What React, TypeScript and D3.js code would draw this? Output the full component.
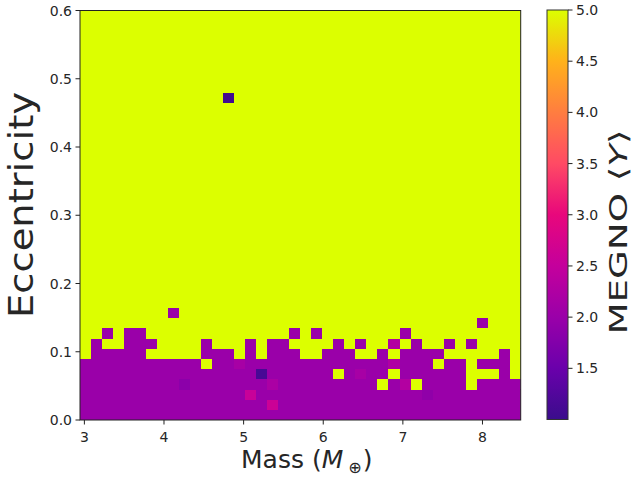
import React from 'react';
import * as d3 from 'd3';

// ---- data ----
const massRange: [number, number] = [2.945, 8.48];
const eccRange: [number, number] = [0, 0.6];
const nMass = 40;
const nEcc = 40;
const regularValue = 2.0;
const chaoticValue = 5.0;
// rows 0..10 (bottom up), '#' = regular orbit (MEGNO ~2), '.' = chaotic (MEGNO 5)
const regularRows: string[] = [
  '########################################',
  '########################################',
  '########################################',
  '###########################.##.####.####',
  '#######################.####.######...#.',
  '###########.####################.##.###.',
  '.#####.....###.#.###..###..#.####.....#.',
  '.#..###....#...#.##....#.#..#.#..#.#....',
  '..#.##.............#.#.......#..........',
  '....................................#...',
  '........#...............................',
];
// [massIndex, eccIndex, MEGNO]
const specialCells: [number, number, number][] = [
  [13, 31, 1.08],
  [16, 4, 1.15],
  [9, 3, 1.85],
  [31, 2, 1.9],
  [14, 5, 2.15],
  [15, 2, 2.55],
  [17, 1, 2.6],
  [17, 3, 2.2],
  [25, 4, 2.15],
  [28, 7, 2.3],
  [28, 5, 2.25],
  [29, 3, 2.3],
];
const xTicks = [3, 4, 5, 6, 7, 8];
const yTicks = [0, 0.1, 0.2, 0.3, 0.4, 0.5, 0.6];
const cbTicks = [1.5, 2.0, 2.5, 3.0, 3.5, 4.0, 4.5, 5.0];
const cbDomain: [number, number] = [1.0, 5.0];
const cmapValues = [1.0, 1.5, 2.0, 2.5, 3.0, 3.5, 4.0, 4.5, 5.0];
const cmapColors = ['#3a0d8c', '#6a00ab', '#9a00a9', '#c4009c', '#e8077c', '#ff4a64', '#ff7d40', '#ffb21a', '#dcff00'];

// ---- layout ----
const W = 635, H = 481;
const PL = 80, PR = 520.7, PT = 10.5, PB = 420;
const CBL = 547, CBR = 568, CBT = 10, CBB = 419.5;
const FONT = 'DejaVu Sans, sans-serif';
const TXT = '#262626';

export default function App() {
  const x = d3.scaleLinear().domain(massRange).range([PL, PR]);
  const y = d3.scaleLinear().domain(eccRange).range([PB, PT]);
  const cb = d3.scaleLinear().domain(cbDomain).range([CBB, CBT]);
  const color = d3.scaleLinear<string>().domain(cmapValues).range(cmapColors).interpolate(d3.interpolateRgb).clamp(true);

  const dm = (massRange[1] - massRange[0]) / nMass;
  const de = (eccRange[1] - eccRange[0]) / nEcc;

  const values: number[][] = [];
  for (let j = 0; j < nEcc; j++) {
    const row: number[] = [];
    for (let i = 0; i < nMass; i++) {
      const s = regularRows[j];
      row.push(s && s[i] === '#' ? regularValue : chaoticValue);
    }
    values.push(row);
  }
  specialCells.forEach(([i, j, v]) => { values[j][i] = v; });

  const cells: JSX.Element[] = [];
  for (let j = 0; j < nEcc; j++) {
    for (let i = 0; i < nMass; i++) {
      const x0 = x(massRange[0] + i * dm);
      const x1 = x(massRange[0] + (i + 1) * dm);
      const y0 = y(eccRange[0] + (j + 1) * de);
      const y1 = y(eccRange[0] + j * de);
      cells.push(
        <rect key={`${i}-${j}`} x={x0} y={y0} width={x1 - x0 + 0.4} height={y1 - y0 + 0.4} fill={color(values[j][i])} />
      );
    }
  }

  const gradStops = d3.range(0, 41).map((k) => {
    const v = cbDomain[0] + (k / 40) * (cbDomain[1] - cbDomain[0]);
    return <stop key={k} offset={`${(k / 40) * 100}%`} stopColor={color(v)} />;
  });

  return (
    <svg width={W} height={H} style={{ position: 'absolute', left: 0, top: 0, background: '#fff' }} fontFamily={FONT}>
      <defs>
        <linearGradient id="cbgrad" x1="0" y1="1" x2="0" y2="0">
          {gradStops}
        </linearGradient>
        <clipPath id="plotclip">
          <rect x={PL} y={PT} width={PR - PL} height={PB - PT} />
        </clipPath>
      </defs>
      <g clipPath="url(#plotclip)" shapeRendering="crispEdges">{cells}</g>
      <rect x={PL} y={PT} width={PR - PL} height={PB - PT} fill="none" stroke="#222" strokeWidth={1} />

      {xTicks.map((t) => (
        <g key={t} transform={`translate(${x(t)},0)`}>
          <line y1={PB} y2={PB + 4.5} stroke="#222" />
          <text y={442} textAnchor="middle" fontSize={14} fill={TXT}>{t}</text>
        </g>
      ))}
      {yTicks.map((t) => (
        <g key={t} transform={`translate(0,${y(t)})`}>
          <line x1={PL - 4.5} x2={PL} stroke="#222" />
          <text x={PL - 8} dy="0.36em" textAnchor="end" fontSize={14} fill={TXT}>{t.toFixed(1)}</text>
        </g>
      ))}

      <text x={241} y={468} fontSize={25} fill={TXT}>
        Mass (<tspan fontStyle="italic">M</tspan>
        <tspan dx={5} dy={5} fontSize={16}>⊕</tspan>
        <tspan dy={-5} dx={1}>)</tspan>
      </text>
      <text transform="translate(33,205) rotate(-90)" textAnchor="middle" fontSize={34} fill={TXT} textLength={226} lengthAdjust="spacingAndGlyphs">
        Eccentricity
      </text>

      <rect x={CBL} y={CBT} width={CBR - CBL} height={CBB - CBT} fill="url(#cbgrad)" stroke="#333" strokeWidth={1} />
      {cbTicks.map((t) => (
        <g key={t} transform={`translate(0,${cb(t)})`}>
          <line x1={CBR} x2={CBR + 4.5} stroke="#222" />
          <text x={CBR + 8} dy="0.36em" fontSize={14} fill={TXT}>{t.toFixed(1)}</text>
        </g>
      ))}
      <text transform="translate(627,232) rotate(-90)" textAnchor="middle" fontSize={25} fill={TXT} textLength={205} lengthAdjust="spacingAndGlyphs">
        MEGNO ⟨<tspan fontStyle="italic">Y</tspan>⟩
      </text>
    </svg>
  );
}
